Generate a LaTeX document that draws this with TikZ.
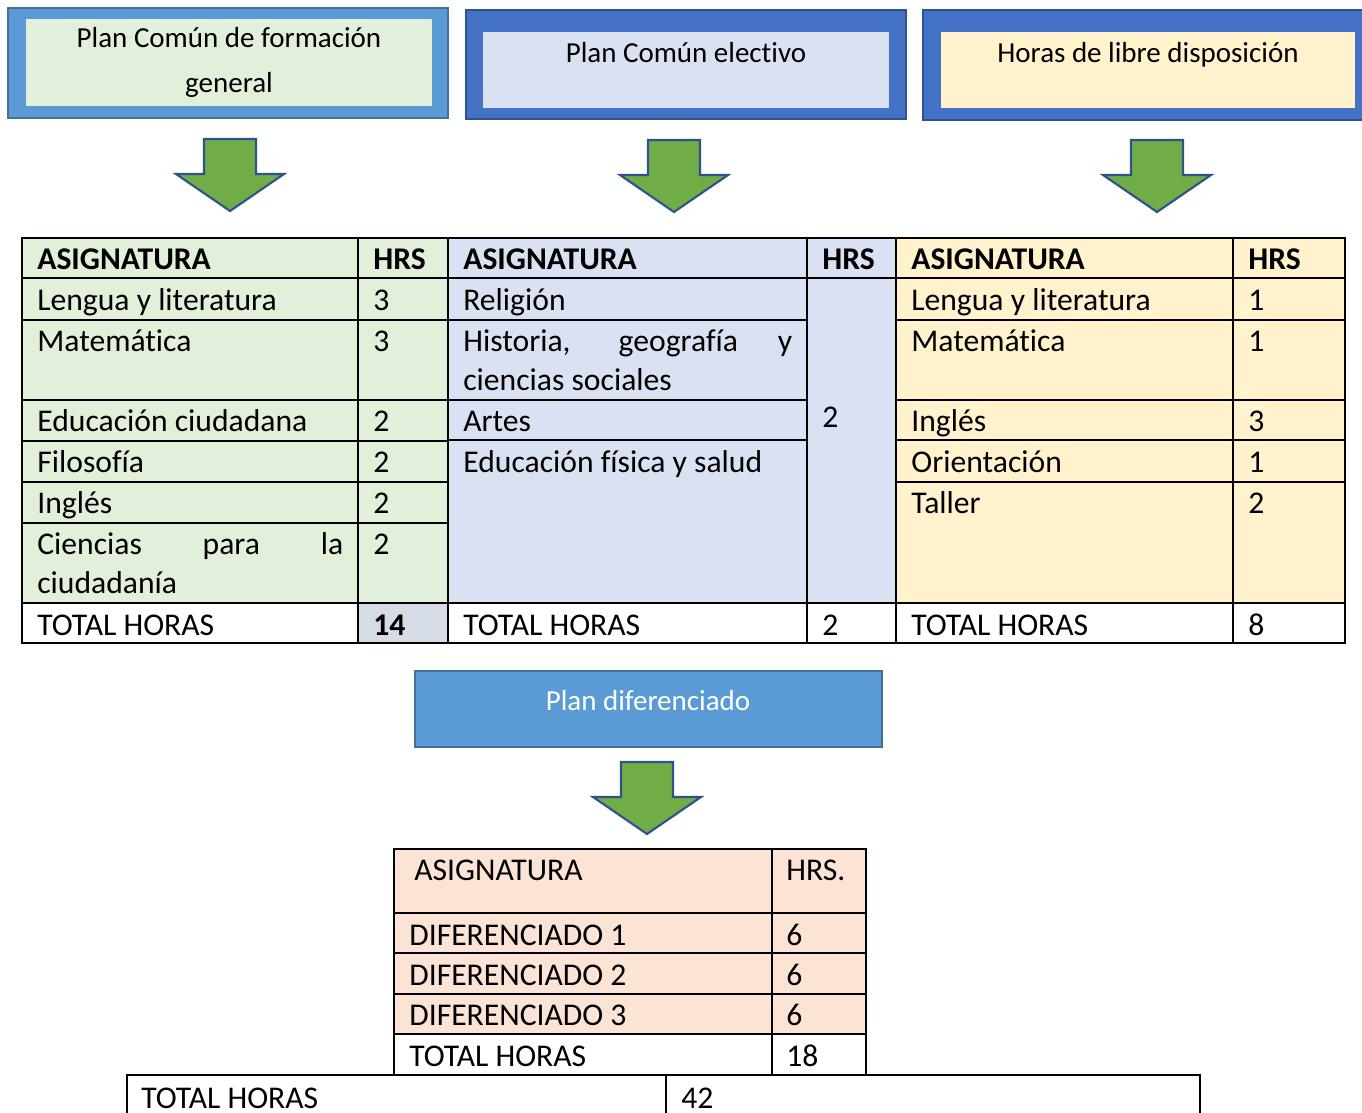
\documentclass[tikz,border=0pt]{standalone}
\usepackage{fontspec}
\setmainfont[Ligatures={NoCommon,NoContextual}]{Carlito}
\definecolor{azulclaro}{HTML}{5B9BD5}
\definecolor{azulborde}{HTML}{41719C}
\definecolor{azul}{HTML}{4472C4}
\definecolor{azuloscuro}{HTML}{2F528F}
\definecolor{verdepalido}{HTML}{E2EFDA}
\definecolor{azulpalido}{HTML}{D9E1F2}
\definecolor{amarillopalido}{HTML}{FFF2CC}
\definecolor{salmon}{HTML}{FBE4D5}
\definecolor{grisazul}{HTML}{D6DCE5}
\definecolor{verde}{HTML}{70AD47}
\tikzset{
  celda/.style={anchor=base west, inner sep=0pt, font=\fontsize{18}{22}\selectfont},
  celdab/.style={celda, font=\fontsize{18}{22}\selectfont\bfseries},
  titulo/.style={anchor=base, inner sep=0pt, font=\fontsize{16.5}{20}\selectfont},
  flechaverde/.style={fill=verde, draw=azuloscuro, line width=1.2pt, line join=miter},
  rejilla/.style={line width=1.1pt},
}
\begin{document}
\begin{tikzpicture}[x=0.02cm,y=-0.02cm]
	\useasboundingbox (0,0) rectangle (1362,1112);
	% cuadros de los planes
	\draw[fill=azulclaro, draw=azulborde, line width=1pt] (8,8) rectangle (448,118);
	\fill[verdepalido] (26,19) rectangle (432,106);
	\node[titulo] (pcfg) at (229,47) {Plan Común de formación};
	\node[titulo] (pcfg2) at (229,92) {general};
	\draw[fill=azul, draw=azuloscuro, line width=1pt] (466,10) rectangle (906,119);
	\fill[azulpalido] (483,32) rectangle (889,108);
	\node[titulo] (pce) at (686,62) {Plan Común electivo};
	\draw[fill=azul, draw=azuloscuro, line width=1pt] (923,10) rectangle (1364,120);
	\fill[amarillopalido] (941,32) rectangle (1355,108);
	\node[titulo] (hld) at (1148,62) {Horas de libre disposición};
	% flechas
	\foreach \cx/\yt in {230/139, 674/140, 1157/140, 647/762}
		\draw[flechaverde] ({\cx-26},\yt) -- ({\cx+26},\yt) -- ({\cx+26},{\yt+35}) -- ({\cx+54},{\yt+35})
			-- (\cx,{\yt+72}) -- ({\cx-54},{\yt+35}) -- ({\cx-26},{\yt+35}) -- cycle;
	% tablas superiores
	\fill[verdepalido] (22,238) rectangle (448,603);
	\fill[azulpalido] (448,238) rectangle (896,603);
	\fill[amarillopalido] (896,238) rectangle (1345,603);
	\fill[grisazul] (358,603) rectangle (448,643);
	\draw[rejilla] (22,238) rectangle (1345,643);
	\draw[rejilla] (22,278) -- (1345,278);
	\draw[rejilla] (22,603) -- (1345,603);
	\foreach \y in {320,400,441,482,523} \draw[rejilla] (22,\y) -- (448,\y);
	\foreach \y in {320,400,440} \draw[rejilla] (448,\y) -- (807,\y);
	\foreach \y in {320,400,440,482} \draw[rejilla] (896,\y) -- (1345,\y);
	\foreach \x in {358,448,807,896,1233} \draw[rejilla] (\x,238) -- (\x,643);
	% tabla 1
	\node[celdab] (a1) at (37,269) {ASIGNATURA};
	\node[celdab] (h1) at (373,269) {HRS};
	\node[celda] (a1r1) at (37,310) {Lengua y literatura};
	\node[celda] (h1r1) at (373,310) {3};
	\node[celda] (a1r2) at (37,351) {Matemática};
	\node[celda] (h1r2) at (373,351) {3};
	\node[celda] (a1r3) at (37,431) {Educación ciudadana};
	\node[celda] (h1r3) at (373,431) {2};
	\node[celda] (a1r4) at (37,472) {Filosofía};
	\node[celda] (h1r4) at (373,472) {2};
	\node[celda] (a1r5) at (37,513) {Inglés};
	\node[celda] (h1r5) at (373,513) {2};
	\node[celda] (a1r6) at (37,554) {\makebox[6.12cm][s]{Ciencias para la}};
	\node[celda] (a1r6b) at (37,593) {ciudadanía};
	\node[celda] (h1r6) at (373,554) {2};
	\node[celda] (t1) at (37,635) {TOTAL HORAS};
	\node[celdab] (th1) at (373,635) {14};
	% tabla 2
	\node[celdab] (a2) at (463,269) {ASIGNATURA};
	\node[celdab] (h2) at (822,269) {HRS};
	\node[celda] (a2r1) at (463,310) {Religión};
	\node[celda] (a2r2) at (463,351) {\makebox[6.58cm][s]{Historia, geografía y}};
	\node[celda] (a2r2b) at (463,390) {ciencias sociales};
	\node[celda] (a2r3) at (463,431) {Artes};
	\node[celda] (a2r4) at (463,472) {Educación física y salud};
	\node[celda] (h2r) at (822,427) {2};
	\node[celda] (t2) at (463,635) {TOTAL HORAS};
	\node[celda] (th2) at (822,635) {2};
	% tabla 3
	\node[celdab] (a3) at (911,269) {ASIGNATURA};
	\node[celdab] (h3) at (1248,269) {HRS};
	\node[celda] (a3r1) at (911,310) {Lengua y literatura};
	\node[celda] (h3r1) at (1248,310) {1};
	\node[celda] (a3r2) at (911,351) {Matemática};
	\node[celda] (h3r2) at (1248,351) {1};
	\node[celda] (a3r3) at (911,431) {Inglés};
	\node[celda] (h3r3) at (1248,431) {3};
	\node[celda] (a3r4) at (911,472) {Orientación};
	\node[celda] (h3r4) at (1248,472) {1};
	\node[celda] (a3r5) at (911,513) {Taller};
	\node[celda] (h3r5) at (1248,513) {2};
	\node[celda] (t3) at (911,635) {TOTAL HORAS};
	\node[celda] (th3) at (1248,635) {8};
	% plan diferenciado
	\draw[fill=azulclaro, draw=azulborde, line width=1pt] (415,671) rectangle (882,747);
	\node[titulo, text=white] (pd) at (648,710) {Plan diferenciado};
	\fill[salmon] (394,849) rectangle (866,1034);
	\draw[rejilla] (394,849) rectangle (866,1075);
	\foreach \y in {913,953,994,1034} \draw[rejilla] (394,\y) -- (866,\y);
	\draw[rejilla] (772,849) -- (772,1075);
	\node[celda] (a4) at (414,880) {ASIGNATURA};
	\node[celda] (h4) at (786,880) {HRS.};
	\node[celda] (d1) at (409,945) {DIFERENCIADO 1};
	\node[celda] (hd1) at (786,945) {6};
	\node[celda] (d2) at (409,985) {DIFERENCIADO 2};
	\node[celda] (hd2) at (786,985) {6};
	\node[celda] (d3) at (409,1025) {DIFERENCIADO 3};
	\node[celda] (hd3) at (786,1025) {6};
	\node[celda] (t4) at (409,1066) {TOTAL HORAS};
	\node[celda] (th4) at (786,1066) {18};
	% total general
	\draw[rejilla] (127,1130) -- (127,1075) -- (1200,1075) -- (1200,1130);
	\draw[rejilla] (666,1075) -- (666,1130);
	\node[celda] (tg) at (141,1108) {TOTAL HORAS};
	\node[celda] (thg) at (681,1108) {42};
\end{tikzpicture}
\end{document}
